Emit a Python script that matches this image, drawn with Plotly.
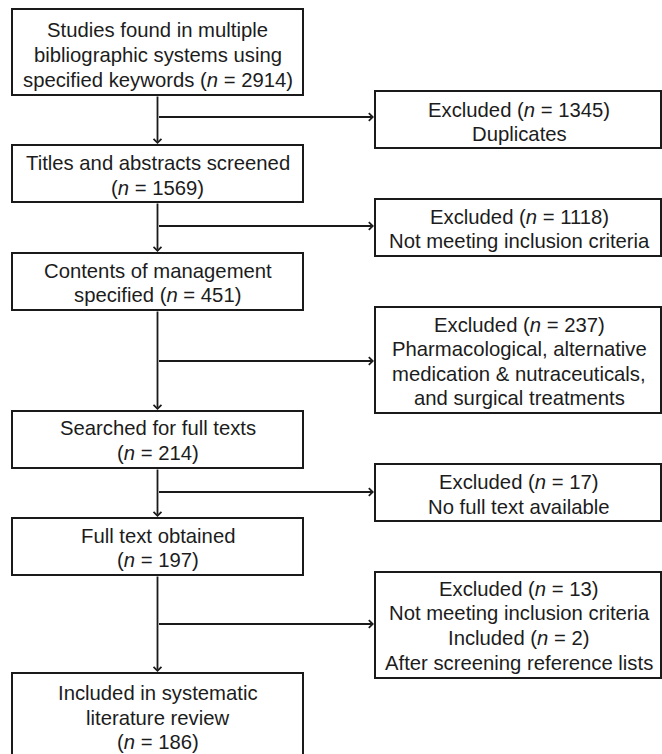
import plotly.graph_objects as go

# ---------------- data ----------------
main_n = [2914, 1569, 451, 214, 197, 186]
main_lines = [
    ["Studies found in multiple", "bibliographic systems using", "specified keywords ({n})"],
    ["Titles and abstracts screened", "({n})"],
    ["Contents of management", "specified ({n})"],
    ["Searched for full texts", "({n})"],
    ["Full text obtained", "({n})"],
    ["Included in systematic", "literature review", "({n})"],
]
excluded_n = [1345, 1118, 237, 17, 13]
included_n = 2
side_lines = [
    ["Excluded ({n})", "Duplicates"],
    ["Excluded ({n})", "Not meeting inclusion criteria"],
    ["Excluded ({n})", "Pharmacological, alternative",
     "medication & nutraceuticals,", "and surgical treatments"],
    ["Excluded ({n})", "No full text available"],
    ["Excluded ({n})", "Not meeting inclusion criteria",
     "Included ({m})", "After screening reference lists"],
]

# ---------------- layout geometry (page pixel units) ----------------
W, H = 662, 754
LX0, LX1 = 12, 303
LCX = 157.5
RX0, RX1 = 375, 661
RCX = 519
main_boxes = [(9, 95), (145, 202), (253, 310), (411, 468), (518, 575), (673, 790)]
main_text_y = [[30, 55, 80], [163, 188], [271, 295], [428, 453], [536, 560], [693, 718, 742]]
side_boxes = [(91, 148), (199, 256), (307, 413), (464, 521), (572, 678)]
side_text_y = [[110, 134], [217, 241], [325, 349, 374, 398], [482, 507], [589, 613, 638, 663]]
branch_y = [117, 226, 361, 492, 624]

FONT = "Liberation Sans, Arial, sans-serif"
FS = 20.3
TXT = "#1c1c1c"
LINE = "#1a1a1a"


def fmt(s, n, m=None):
    s = s.replace("{n}", "<i>n</i> = %d" % n)
    if m is not None:
        s = s.replace("{m}", "<i>n</i> = %d" % m)
    return s


fig = go.Figure()
shapes = []
annotations = []

for (y0, y1) in main_boxes:
    shapes.append(dict(type="rect", x0=LX0, x1=LX1, y0=y0, y1=y1, xref="x", yref="y",
                       line=dict(color=LINE, width=2), fillcolor="white", layer="above"))
for (y0, y1) in side_boxes:
    shapes.append(dict(type="rect", x0=RX0, x1=RX1, y0=y0, y1=y1, xref="x", yref="y",
                       line=dict(color=LINE, width=2), fillcolor="white", layer="above"))

for i, lines in enumerate(main_lines):
    for s, y in zip(lines, main_text_y[i]):
        annotations.append(dict(x=LCX, y=y, xref="x", yref="y", text=fmt(s, main_n[i]),
                                showarrow=False, xanchor="center", yanchor="middle",
                                font=dict(family=FONT, size=FS, color=TXT)))
for i, lines in enumerate(side_lines):
    for s, y in zip(lines, side_text_y[i]):
        annotations.append(dict(x=RCX, y=y, xref="x", yref="y",
                                text=fmt(s, excluded_n[i], included_n if i == 4 else None),
                                showarrow=False, xanchor="center", yanchor="middle",
                                font=dict(family=FONT, size=FS, color=TXT)))

# connectors: vertical arrows between main boxes, horizontal arrows to side boxes
for i in range(len(main_boxes) - 1):
    y_from = main_boxes[i][1]
    y_to = main_boxes[i + 1][0]
    annotations.append(dict(x=LCX, y=y_to - 1, ax=LCX, ay=y_from, xref="x", yref="y",
                            axref="x", ayref="y", text="", showarrow=True, arrowhead=4,
                            arrowsize=0.85, arrowwidth=1.8, arrowcolor=LINE, standoff=0))
    by = branch_y[i]
    annotations.append(dict(x=RX0 - 1, y=by, ax=LCX, ay=by, xref="x", yref="y",
                            axref="x", ayref="y", text="", showarrow=True, arrowhead=4,
                            arrowsize=0.85, arrowwidth=1.8, arrowcolor=LINE, standoff=0))

fig.update_layout(
    width=W, height=H,
    margin=dict(l=0, r=0, t=0, b=0),
    paper_bgcolor="white", plot_bgcolor="white",
    xaxis=dict(range=[0, W], visible=False, fixedrange=True),
    yaxis=dict(range=[H, 0], visible=False, fixedrange=True),
    shapes=shapes, annotations=annotations, showlegend=False,
)
fig.write_html(
    "out.html",
    config={"displayModeBar": False, "staticPlot": True},
    post_script="document.body.style.margin='0';document.body.style.overflow='hidden';",
)
